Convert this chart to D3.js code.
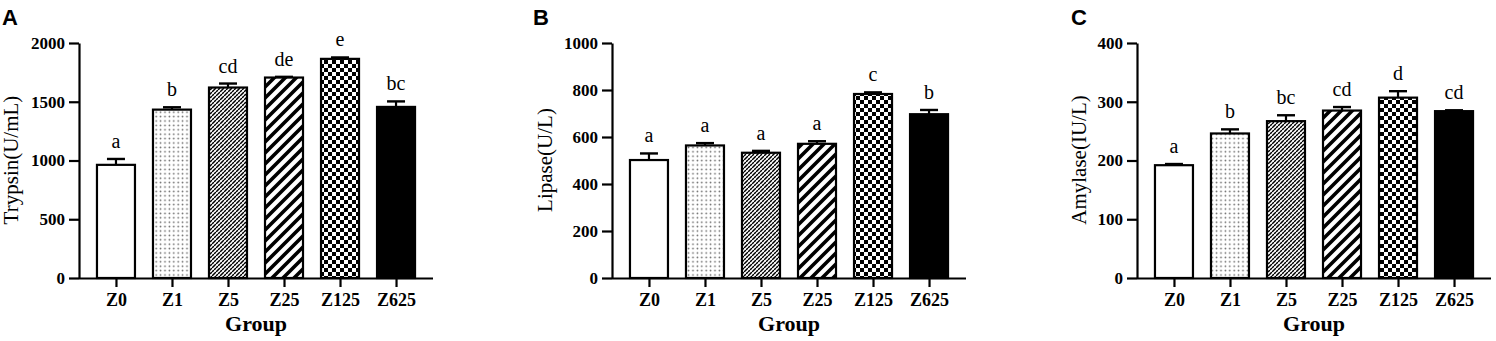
<!DOCTYPE html>
<html>
<head>
<meta charset="utf-8">
<script src="https://cdn.jsdelivr.net/npm/d3@7"></script>
<style>
  html, body { margin: 0; padding: 0; background: #fff; }
  svg { display: block; }
</style>
</head>
<body>
<div id="chart"></div>
<script>
const groups = ['Z0', 'Z1', 'Z5', 'Z25', 'Z125', 'Z625'];

const trypsinMean = [963, 1433, 1621, 1706, 1865, 1456];
const trypsinErr = [50, 20, 34, 6, 12, 47];
const trypsinLetters = ['a', 'b', 'cd', 'de', 'e', 'bc'];
const trypsinTicks = [0, 500, 1000, 1500, 2000];

const lipaseMean = [502, 564, 533, 571, 783, 697];
const lipaseErr = [28, 10, 8, 11, 7, 18];
const lipaseLetters = ['a', 'a', 'a', 'a', 'c', 'b'];
const lipaseTicks = [0, 200, 400, 600, 800, 1000];

const amylaseMean = [192, 246, 267, 285, 307, 284];
const amylaseErr = [2, 7, 10, 6, 11, 1.5];
const amylaseLetters = ['a', 'b', 'bc', 'cd', 'd', 'cd'];
const amylaseTicks = [0, 100, 200, 300, 400];

const serif = '"Liberation Serif", "Times New Roman", serif';
const sans = '"Liberation Sans", Arial, sans-serif';

const svg = d3.select('#chart').append('svg')
    .attr('width', 1496)
    .attr('height', 341);

svg.append('rect').attr('width', 1496).attr('height', 341).attr('fill', '#fff');

// bar fill patterns
const defs = svg.append('defs');

const dots = defs.append('pattern').attr('id', 'pat-dots')
    .attr('patternUnits', 'userSpaceOnUse').attr('width', 4.4).attr('height', 4.4);
dots.append('rect').attr('width', 4.4).attr('height', 4.4).attr('fill', '#fff');
dots.append('circle').attr('cx', 2.2).attr('cy', 2.2).attr('r', 0.85).attr('fill', '#666');

const fine = defs.append('pattern').attr('id', 'pat-fine')
    .attr('patternUnits', 'userSpaceOnUse').attr('width', 8).attr('height', 8);
fine.append('rect').attr('width', 8).attr('height', 8).attr('fill', '#fff');
fine.append('path').attr('d', 'M-1,1 L1,-1 M0,4 L4,0 M0,8 L8,0 M4,8 L8,4 M7,9 L9,7')
    .attr('stroke', '#000').attr('stroke-width', 1.5);
// small breaks in the fine hatch
fine.append('path').attr('d', 'M0,0 L8,8')
    .attr('stroke', '#fff').attr('stroke-width', 0.7);

const wide = defs.append('pattern').attr('id', 'pat-wide')
    .attr('patternUnits', 'userSpaceOnUse').attr('width', 11).attr('height', 11);
wide.append('rect').attr('width', 11).attr('height', 11).attr('fill', '#fff');
wide.append('path').attr('d', 'M-3,3 L3,-3 M0,11 L11,0 M8,14 L14,8')
    .attr('stroke', '#000').attr('stroke-width', 3.6);

const check = defs.append('pattern').attr('id', 'pat-check')
    .attr('patternUnits', 'userSpaceOnUse').attr('width', 8).attr('height', 8);
check.append('rect').attr('width', 8).attr('height', 8).attr('fill', '#fff');
check.append('rect').attr('width', 4).attr('height', 4).attr('fill', '#000');
check.append('rect').attr('x', 4).attr('y', 4).attr('width', 4).attr('height', 4).attr('fill', '#000');

const fills = ['#fff', 'url(#pat-dots)', 'url(#pat-fine)', 'url(#pat-wide)', 'url(#pat-check)', '#000'];

function drawPanel(opts) {
    const top = 43, bottom = 278;
    const left = opts.left, right = opts.left + 354;

    const y = d3.scaleLinear().domain([0, opts.max]).range([bottom, top]);
    const x = d3.scalePoint().domain(groups).range([left, right]).padding(0.66);
    const barW = 38;

    const g = svg.append('g');

    const data = groups.map((k, i) => ({
        key: k, mean: opts.means[i], err: opts.errs[i], letter: opts.letters[i], fill: fills[i]
    }));

    g.selectAll('rect.bar')
        .data(data)
        .enter()
        .append('rect')
        .attr('class', 'bar')
        .attr('x', d => x(d.key) - barW / 2)
        .attr('y', d => y(d.mean))
        .attr('width', barW)
        .attr('height', d => y(0) - y(d.mean))
        .attr('fill', d => d.fill)
        .attr('stroke', '#000')
        .attr('stroke-width', 2.2);

    // error bars (upper only)
    const eb = g.selectAll('g.err').data(data).enter().append('g').attr('class', 'err');
    eb.append('line')
        .attr('x1', d => x(d.key)).attr('x2', d => x(d.key))
        .attr('y1', d => y(d.mean)).attr('y2', d => y(d.mean + d.err))
        .attr('stroke', '#000').attr('stroke-width', 2.2);
    eb.append('line')
        .attr('x1', d => x(d.key) - 9).attr('x2', d => x(d.key) + 9)
        .attr('y1', d => y(d.mean + d.err)).attr('y2', d => y(d.mean + d.err))
        .attr('stroke', '#000').attr('stroke-width', 2.4);

    g.selectAll('text.letter')
        .data(data)
        .enter()
        .append('text')
        .attr('class', 'letter')
        .attr('x', d => x(d.key))
        .attr('y', d => y(d.mean + d.err) - 11)
        .attr('text-anchor', 'middle')
        .style('font-family', serif)
        .style('font-size', '20px')
        .text(d => d.letter);

    const yAxis = g.append('g')
        .attr('transform', `translate(${left},0)`)
        .call(d3.axisLeft(y).tickValues(opts.ticks).tickFormat(d3.format('d'))
            .tickSize(10).tickSizeOuter(0).tickPadding(4));

    const xAxis = g.append('g')
        .attr('transform', `translate(0,${bottom})`)
        .call(d3.axisBottom(x).tickSize(9).tickSizeOuter(0).tickPadding(6));
    xAxis.select('.domain').attr('d', `M${left},0.5H${right}`);

    [yAxis, xAxis].forEach(a => {
        a.selectAll('.domain, .tick line').attr('stroke', '#000').attr('stroke-width', 2.2);
        a.selectAll('text')
            .style('font-family', serif)
            .style('font-weight', 'bold')
            .style('fill', '#000');
    });
    yAxis.selectAll('text').style('font-size', '17px');
    xAxis.selectAll('text').style('font-size', '18px');

    g.append('text')
        .attr('transform', 'rotate(-90)')
        .attr('x', -160)
        .attr('y', left - opts.titleOffset)
        .attr('text-anchor', 'middle')
        .style('font-family', serif)
        .style('font-size', '21px')
        .text(opts.title);

    g.append('text')
        .attr('x', (left + right) / 2)
        .attr('y', 331)
        .attr('text-anchor', 'middle')
        .style('font-family', serif)
        .style('font-weight', 'bold')
        .style('font-size', '22px')
        .text('Group');

    g.append('text')
        .attr('x', opts.labelX)
        .attr('y', 25)
        .style('font-family', sans)
        .style('font-weight', 'bold')
        .style('font-size', '22px')
        .text(opts.label);
}

drawPanel({ left: 79, label: 'A', labelX: 2, title: 'Trypsin(U/mL)', titleOffset: 61,
    max: 2000, ticks: trypsinTicks, means: trypsinMean, errs: trypsinErr, letters: trypsinLetters });
drawPanel({ left: 612, label: 'B', labelX: 533, title: 'Lipase(U/L)', titleOffset: 60,
    max: 1000, ticks: lipaseTicks, means: lipaseMean, errs: lipaseErr, letters: lipaseLetters });
drawPanel({ left: 1137, label: 'C', labelX: 1071, title: 'Amylase(IU/L)', titleOffset: 51,
    max: 400, ticks: amylaseTicks, means: amylaseMean, errs: amylaseErr, letters: amylaseLetters });
</script>
</body>
</html>
